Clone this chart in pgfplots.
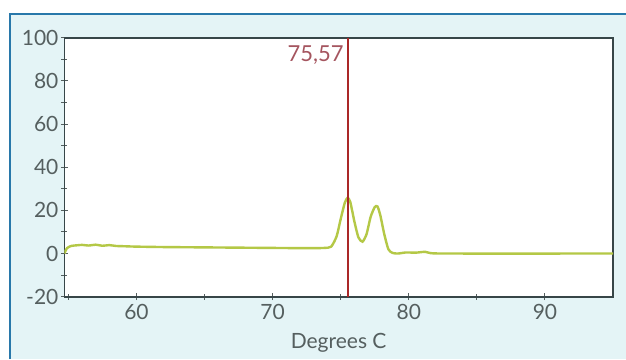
\documentclass[border=0pt]{standalone}
\usepackage{pgfplots}
\pgfplotsset{compat=1.18}
\usepackage{fontspec}
\setmainfont{Lato}
\definecolor{bgc}{RGB}{228,244,246}
\definecolor{framec}{RGB}{40,120,170}
\definecolor{axc}{RGB}{55,70,72}
\definecolor{txtc}{RGB}{85,95,95}
\definecolor{curvec}{RGB}{180,200,70}
\definecolor{redl}{RGB}{170,40,40}
\definecolor{lblc}{RGB}{165,85,95}
\begin{document}
\begin{tikzpicture}
\path[use as bounding box] (-32.15pt,-31.15pt) rectangle (280.85pt,148.35pt);
\fill[bgc] (-27.15pt,-31.15pt) rectangle (280.85pt,141.35pt);
\draw[framec, line width=1pt] (-27.15pt,-31.15pt) -- (-27.15pt,141.35pt) -- (280.85pt,141.35pt);
\begin{axis}[
  at={(0,0)}, anchor=south west,
  scale only axis, width=274.35pt, height=129.5pt,
  xmin=54.7, xmax=95, ymin=-20, ymax=100,
  xtick={60,70,80,90}, ytick={-20,0,20,40,60,80,100},
  minor xtick={55,65,75,85}, minor ytick={-10,10,30,50,70,90},
  tick align=center, major tick length=3.5pt, minor tick length=3pt,
  xtick pos=bottom, ytick pos=left,
  tick style={line width=0.5pt, txtc},
  axis line style={axc, line width=0.8pt},
  axis background/.style={fill=white},
  tick label style={font=\fontsize{10.5}{12}\selectfont, text=txtc},
  /pgf/number format/assume math mode=true,
  yticklabel style={inner sep=1pt},
  xticklabel style={inner sep=2pt},
  xlabel={Degrees C},
  xlabel style={font=\fontsize{10.5}{12}\selectfont, text=txtc, yshift=-1pt},
  clip=true,
]
\addplot[curvec, line width=1.2pt, smooth, tension=0.4] coordinates {
(54.7,0) (54.9,2.5) (55.2,3.5) (55.6,3.8) (56,4.0) (56.5,3.7) (57,4.1)
(57.5,3.6) (58,3.9) (58.5,3.5) (59,3.4) (60,3.2) (62,3.0) (64,2.9)
(66,2.8) (68,2.7) (70,2.6) (72,2.5) (73,2.5) (73.8,2.6) (74.3,3.2)
(74.7,8) (75.0,16) (75.3,23.5) (75.5,25.8) (75.7,24) (76.0,15) (76.3,7.5)
(76.6,5.5) (76.9,9) (77.2,17) (77.5,21.5) (77.7,21.8) (77.9,18) (78.2,9)
(78.5,2) (78.8,0.3) (79.2,0.0) (79.8,0.5) (80.5,0.4) (81.2,0.8) (81.6,0.2)
(83,0) (95,0)
};
\addplot[redl, line width=1pt] coordinates {(75.57,-20) (75.57,100)};
\node[anchor=east, text=lblc, font=\fontsize{11}{12}\selectfont, inner sep=1pt] at (axis cs:75.4,92) {75,57};
\end{axis}
\end{tikzpicture}
\end{document}
